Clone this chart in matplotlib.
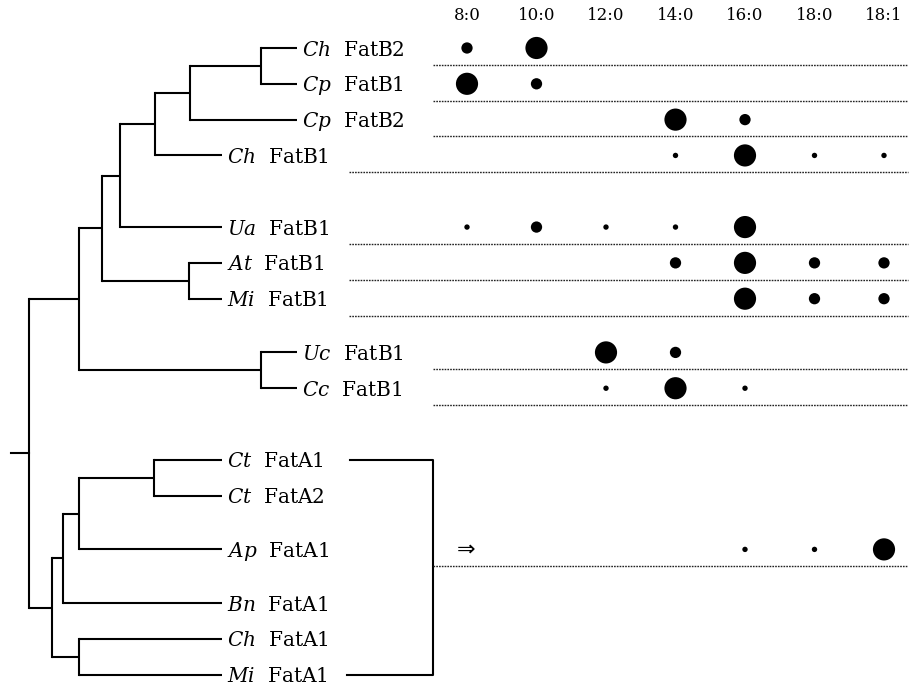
import numpy as np
import matplotlib
matplotlib.use("Agg")
import matplotlib.pyplot as plt

plt.rcParams['font.family'] = ['DejaVu Serif', 'DejaVu Sans']
plt.rcParams['mathtext.fontset'] = 'custom'
plt.rcParams['mathtext.it'] = 'DejaVu Serif:italic'
plt.rcParams['mathtext.rm'] = 'DejaVu Serif'

# leaves of the tree (top to bottom)
species = ['Ch', 'Cp', 'Cp', 'Ch', 'Ua', 'At', 'Mi', 'Uc', 'Cc',
           'Ct', 'Ct', 'Ap', 'Bn', 'Ch', 'Mi']
genes = ['FatB2', 'FatB1', 'FatB2', 'FatB1', 'FatB1', 'FatB1', 'FatB1', 'FatB1', 'FatB1',
         'FatA1', 'FatA2', 'FatA1', 'FatA1', 'FatA1', 'FatA1']
leaf_rows = [0, 1, 2, 3, 5, 6, 7, 8.5, 9.5, 11.5, 12.5, 14, 15.5, 16.5, 17.5]
leaf_depth = [297, 297, 297, 222, 222, 222, 222, 297, 297,
              222, 222, 222, 222, 222, 222]

# tree: (node depth, children) ; children are leaf indices or nodes
tree = (29, [
    (79, [
        (102, [
            (120, [
                (155, [
                    (190, [(261, [0, 1]), 2]),
                    3]),
                4]),
            (189, [5, 6])]),
        (261, [7, 8])]),
    (52, [
        (63, [
            (79, [(154, [9, 10]), 11]),
            12]),
        (79, [13, 14])]),
])

# fatty acid profile (0 none, 1 trace, 2 minor, 3 major)
acids = ['8:0', '10:0', '12:0', '14:0', '16:0', '18:0', '18:1']
profile_leaf = [0, 1, 2, 3, 4, 5, 6, 7, 8, 11]
profile = [
    [2, 3, 0, 0, 0, 0, 0],
    [3, 2, 0, 0, 0, 0, 0],
    [0, 0, 0, 3, 2, 0, 0],
    [0, 0, 0, 1, 3, 1, 1],
    [1, 2, 1, 1, 3, 0, 0],
    [0, 0, 0, 2, 3, 2, 2],
    [0, 0, 0, 0, 3, 2, 2],
    [0, 0, 3, 2, 0, 0, 0],
    [0, 0, 1, 3, 1, 0, 0],
    [0, 0, 0, 0, 1, 1, 3],
]
line_start = [433, 433, 433, 349, 349, 349, 349, 433, 433, 433]

fig = plt.figure(figsize=(9.12, 6.88), dpi=100)
ax = fig.add_axes([0, 0, 1, 1])
ax.set_xlim(0, 912)
ax.set_ylim(17.87, -1.34)
ax.axis('off')

lw = 1.5


def draw(node):
    x, children = node
    ys = []
    for c in children:
        if isinstance(c, tuple):
            cy = draw(c)
            ax.plot([x, c[0]], [cy, cy], color='black', lw=lw, solid_capstyle='butt')
        else:
            cy = leaf_rows[c]
            ax.plot([x, leaf_depth[c]], [cy, cy], color='black', lw=lw, solid_capstyle='butt')
        ys.append(cy)
    ax.plot([x, x], [min(ys), max(ys)], color='black', lw=lw, solid_capstyle='projecting')
    return (min(ys) + max(ys)) / 2


root_y = draw(tree)
ax.plot([11, tree[0]], [root_y, root_y], color='black', lw=lw)

for i in range(len(species)):
    ax.text(leaf_depth[i] + 5, leaf_rows[i] + 0.21,
            r'$\mathit{%s}$  %s' % (species[i], genes[i]),
            fontsize=14.5, ha='left', va='baseline')

# bracket around the FatA clade
ax.plot([350, 433, 433, 347], [leaf_rows[9], leaf_rows[9], leaf_rows[14], leaf_rows[14]],
        color='black', lw=lw)
ax.text(457, leaf_rows[11], '\u21d2', fontsize=16, ha='left', va='center',
        family=['DejaVu Sans'])

col_x = 467 + 69.5 * np.arange(len(acids))
for j, a in enumerate(acids):
    ax.text(col_x[j], -0.9, a, fontsize=12, ha='center', va='center')

sizes = {1: 15, 2: 66, 3: 255}
for k, row in enumerate(profile):
    y = leaf_rows[profile_leaf[k]]
    for j, v in enumerate(row):
        if v > 0:
            ax.scatter(col_x[j], y, s=sizes[v], color='black', edgecolors='none', zorder=3)
    ax.plot([line_start[k], 908], [y + 0.47, y + 0.47], color='#222222', lw=1.0,
            linestyle=(0, (1.2, 0.8)))

fig.savefig('out.png', dpi=100, facecolor='white')
